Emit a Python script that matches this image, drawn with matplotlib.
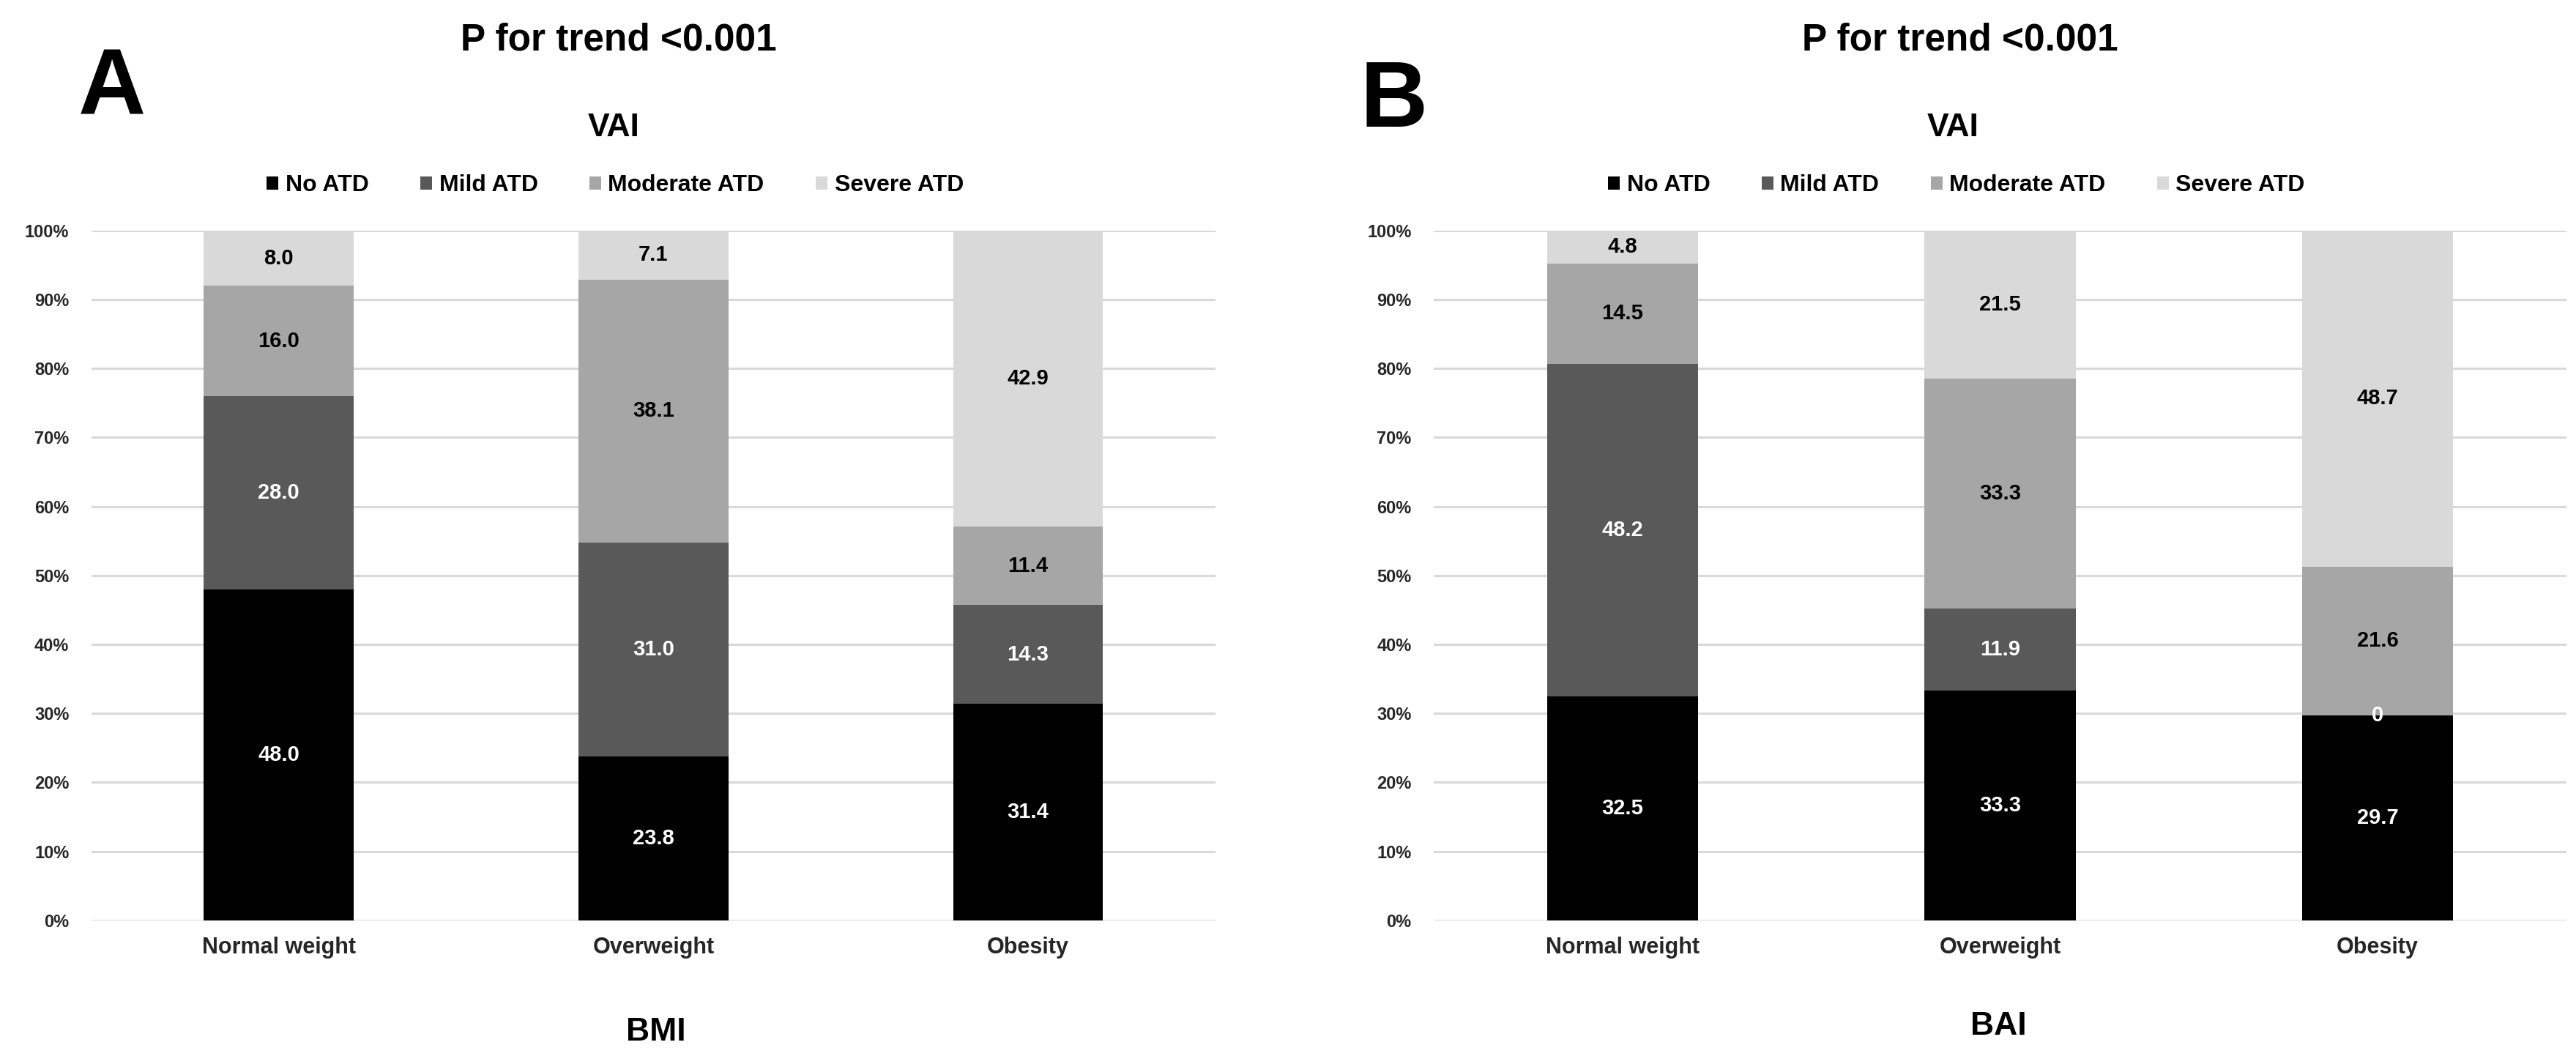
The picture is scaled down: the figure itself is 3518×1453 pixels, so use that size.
import matplotlib
import matplotlib.pyplot as plt
from matplotlib.patches import Patch

matplotlib.use('Agg')

plt.rcParams['font.family'] = ['Liberation Sans', 'DejaVu Sans']
plt.rcParams['font.weight'] = 'bold'

# data (percent of each group)
groups = ['Normal weight', 'Overweight', 'Obesity']
series_names = ['No ATD', 'Mild ATD', 'Moderate ATD', 'Severe ATD']
series_colors = ['#000000', '#595959', '#a6a6a6', '#d9d9d9']
label_colors = ['white', 'white', 'black', 'black']

bmi_no = [48.0, 23.8, 31.4]
bmi_mild = [28.0, 31.0, 14.3]
bmi_moderate = [16.0, 38.1, 11.4]
bmi_severe = [8.0, 7.1, 42.9]

bai_no = [32.5, 33.3, 29.7]
bai_mild = [48.2, 11.9, 0]
bai_moderate = [14.5, 33.3, 21.6]
bai_severe = [4.8, 21.5, 48.7]

bmi_labels = [['48.0', '23.8', '31.4'], ['28.0', '31.0', '14.3'],
              ['16.0', '38.1', '11.4'], ['8.0', '7.1', '42.9']]
bai_labels = [['32.5', '33.3', '29.7'], ['48.2', '11.9', '0'],
              ['14.5', '33.3', '21.6'], ['4.8', '21.5', '48.7']]

y_ticks = [0, 10, 20, 30, 40, 50, 60, 70, 80, 90, 100]
y_tick_labels = ['%d%%' % t for t in y_ticks]


def draw_panel(ax, series, labels):
    x = list(range(len(groups)))
    bottoms = [0.0] * len(groups)
    for i, values in enumerate(series):
        ax.bar(x, values, width=0.4, bottom=bottoms, color=series_colors[i],
               zorder=3)
        for j, v in enumerate(values):
            ax.text(x[j], bottoms[j] + v / 2, labels[i][j], ha='center',
                    va='center', fontsize=21, color=label_colors[i],
                    fontweight='bold', zorder=4)
        bottoms = [b + v for b, v in zip(bottoms, values)]

    ax.set_xlim(-0.5, 2.5)
    ax.set_ylim(0, 100)
    ax.set_yticks(y_ticks)
    ax.set_yticklabels(y_tick_labels, fontsize=17, color='#262626')
    ax.set_xticks(x)
    ax.set_xticklabels(groups, fontsize=22, color='#262626')
    ax.tick_params(axis='y', length=0, pad=22)
    ax.tick_params(axis='x', length=0, pad=16)
    ax.grid(axis='y', color='#d9d9d9', linewidth=2.2, zorder=0)
    for s in ax.spines.values():
        s.set_visible(False)


fig = plt.figure(figsize=(35.18, 14.53), dpi=100)

ax_a = fig.add_axes([0.0355, 0.135, 0.4363, 0.6483])
ax_b = fig.add_axes([0.5566, 0.135, 0.4397, 0.6483])

draw_panel(ax_a, [bmi_no, bmi_mild, bmi_moderate, bmi_severe], bmi_labels)
draw_panel(ax_b, [bai_no, bai_mild, bai_moderate, bai_severe], bai_labels)

handles = [Patch(facecolor=c) for c in series_colors]

for ax, cx, ptx, vx, lx, lab, lab_y, bx, by, letter in [
        (ax_a, 0.2388, 0.2402, 0.2382, 0.2547, 'BMI', 0.0296, 0.0435, 0.9153, 'A'),
        (ax_b, 0.7595, 0.7609, 0.7581, 0.7757, 'BAI', 0.0351, 0.5412, 0.9036, 'B')]:
    ax.legend(handles, series_names, ncol=4, loc='center',
              bbox_to_anchor=(cx, 0.8259), bbox_transform=fig.transFigure,
              frameon=False, fontsize=23, handlelength=0.5, handleheight=0.5,
              handletextpad=0.3, columnspacing=2.2)
    fig.text(ptx, 0.9621, 'P for trend <0.001', ha='center', va='center',
             fontsize=37, fontweight='bold')
    fig.text(vx, 0.8796, 'VAI', ha='center', va='center', fontsize=32,
             fontweight='bold')
    fig.text(lx, lab_y, lab, ha='center', va='center', fontsize=32,
             fontweight='bold')
    fig.text(bx, by, letter, ha='center', va='center', fontsize=92,
             fontweight='bold')

fig.savefig('out.png', dpi=100, facecolor='white')
